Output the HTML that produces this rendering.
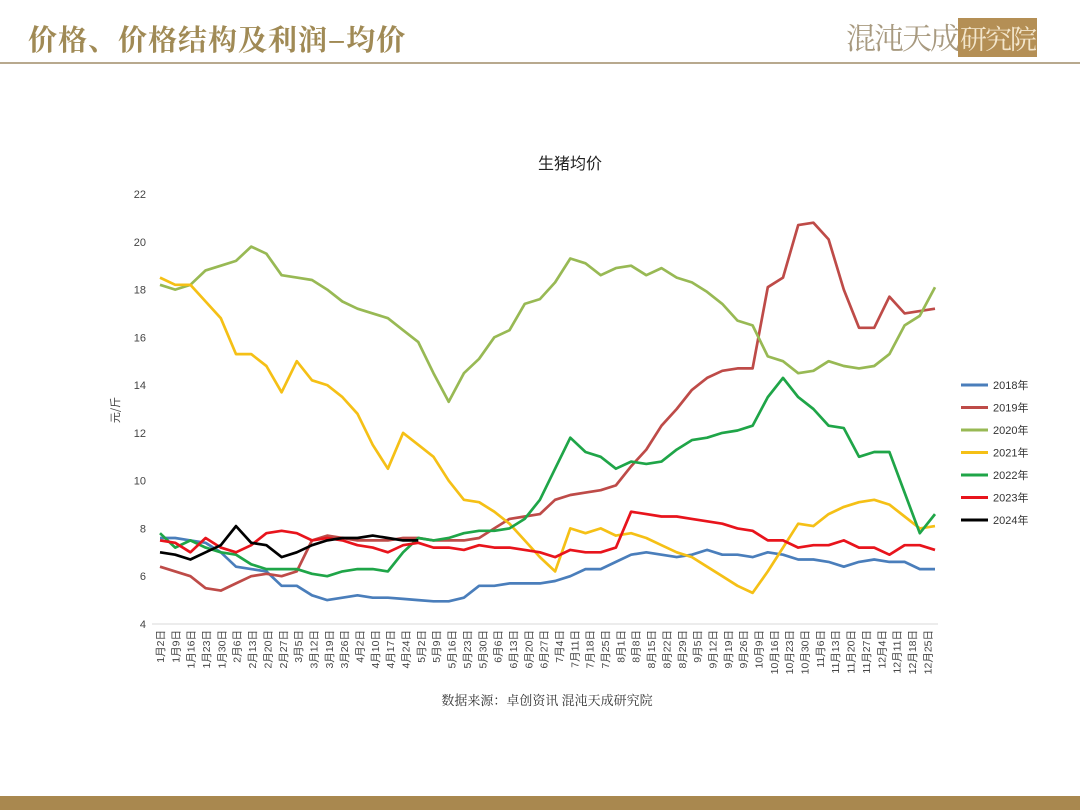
<!DOCTYPE html>
<html><head><meta charset="utf-8"><style>
body{margin:0;width:1080px;height:810px;background:#fff;position:relative;overflow:hidden;font-family:"Liberation Sans","Noto Sans CJK SC",sans-serif}
#hdr{position:absolute;left:28px;top:18px;font:bold 29px "Noto Serif CJK SC","Noto Sans CJK SC",serif;color:#a08a55;letter-spacing:1px}
#hline{position:absolute;left:0;top:62px;width:1080px;height:2px;background:#b8a98e}
#logo{position:absolute;left:846px;top:14px;font:30px "Noto Serif CJK SC",serif;color:#a89a80;letter-spacing:-2px}
#logo span{background:#b48f55;color:#f3e6cc;padding:0 2px;font-size:27px}
#foot{position:absolute;left:0;top:796px;width:1080px;height:14px;background:#a9884f}
</style></head><body>
<div id="hdr">价格、价格结构及利润–均价</div>
<div id="logo">混沌天成<span>研究院</span></div>
<div id="hline"></div>
<div id="foot"></div>
<svg id="chart" width="1080" height="810" style="position:absolute;left:0;top:0"></svg>
<script>
const categories=["1月2日","1月9日","1月16日","1月23日","1月30日","2月6日","2月13日","2月20日","2月27日","3月5日","3月12日","3月19日","3月26日","4月2日","4月10日","4月17日","4月24日","5月2日","5月9日","5月16日","5月23日","5月30日","6月6日","6月13日","6月20日","6月27日","7月4日","7月11日","7月18日","7月25日","8月1日","8月8日","8月15日","8月22日","8月29日","9月5日","9月12日","9月19日","9月26日","10月9日","10月16日","10月23日","10月30日","11月6日","11月13日","11月20日","11月27日","12月4日","12月11日","12月18日","12月25日"];
const yTicks=[4,6,8,10,12,14,16,18,20,22];
const seriesNames=["2018年","2019年","2020年","2021年","2022年","2023年","2024年"];
const colors=["#4a7ebb","#be4b48","#98b954","#f5c016","#1fa548","#e8141c","#000000"];
const s2018=[7.6,7.6,7.5,7.4,7.0,6.4,6.3,6.2,5.6,5.6,5.2,5.0,5.1,5.2,5.1,5.1,5.05,5.0,4.95,4.95,5.1,5.6,5.6,5.7,5.7,5.7,5.8,6.0,6.3,6.3,6.6,6.9,7.0,6.9,6.8,6.9,7.1,6.9,6.9,6.8,7.0,6.9,6.7,6.7,6.6,6.4,6.6,6.7,6.6,6.6,6.3,6.3];
const s2019=[6.4,6.2,6.0,5.5,5.4,5.7,6.0,6.1,6.0,6.2,7.5,7.7,7.6,7.5,7.5,7.5,7.6,7.6,7.5,7.5,7.5,7.6,8.0,8.4,8.5,8.6,9.2,9.4,9.5,9.6,9.8,10.6,11.3,12.3,13.0,13.8,14.3,14.6,14.7,14.7,18.1,18.5,20.7,20.8,20.1,18.0,16.4,16.4,17.7,17.0,17.1,17.2];
const s2020=[18.2,18.0,18.2,18.8,19.0,19.2,19.8,19.5,18.6,18.5,18.4,18.0,17.5,17.2,17.0,16.8,16.3,15.8,14.5,13.3,14.5,15.1,16.0,16.3,17.4,17.6,18.3,19.3,19.1,18.6,18.9,19.0,18.6,18.9,18.5,18.3,17.9,17.4,16.7,16.5,15.2,15.0,14.5,14.6,15.0,14.8,14.7,14.8,15.3,16.5,16.9,18.1];
const s2021=[18.5,18.2,18.2,17.5,16.8,15.3,15.3,14.8,13.7,15.0,14.2,14.0,13.5,12.8,11.5,10.5,12.0,11.5,11.0,10.0,9.2,9.1,8.7,8.2,7.5,6.8,6.2,8.0,7.8,8.0,7.7,7.8,7.6,7.3,7.0,6.8,6.4,6.0,5.6,5.3,6.2,7.2,8.2,8.1,8.6,8.9,9.1,9.2,9.0,8.5,8.0,8.1];
const s2022=[7.8,7.2,7.5,7.2,7.0,6.9,6.5,6.3,6.3,6.3,6.1,6.0,6.2,6.3,6.3,6.2,7.0,7.6,7.5,7.6,7.8,7.9,7.9,8.0,8.4,9.2,10.5,11.8,11.2,11.0,10.5,10.8,10.7,10.8,11.3,11.7,11.8,12.0,12.1,12.3,13.5,14.3,13.5,13.0,12.3,12.2,11.0,11.2,11.2,9.5,7.8,8.6];
const s2023=[7.5,7.4,7.0,7.6,7.2,7.0,7.3,7.8,7.9,7.8,7.5,7.6,7.5,7.3,7.2,7.0,7.3,7.4,7.2,7.2,7.1,7.3,7.2,7.2,7.1,7.0,6.8,7.1,7.0,7.0,7.2,8.7,8.6,8.5,8.5,8.4,8.3,8.2,8.0,7.9,7.5,7.5,7.2,7.3,7.3,7.5,7.2,7.2,6.9,7.3,7.3,7.1];
const s2024=[7.0,6.9,6.7,7.0,7.3,8.1,7.4,7.3,6.8,7.0,7.3,7.5,7.6,7.6,7.7,7.6,7.5,7.5];
const allSeries=[s2018,s2019,s2020,s2021,s2022,s2023,s2024];
const NS="http://www.w3.org/2000/svg";
const svg=document.getElementById('chart');
const X0=160,X1=935,Y0=624,Y1=194;
const xPos=i=>X0+i*(X1-X0)/51;
const yPos=v=>Y0-(v-4)*(Y0-Y1)/18;
function mk(t,a,p){const e=document.createElementNS(NS,t);for(const k in a)e.setAttribute(k,a[k]);(p||svg).appendChild(e);return e;}
let t=mk('text',{x:570,y:169,'text-anchor':'middle','font-size':16,fill:'#222','font-family':'"Noto Sans CJK SC",sans-serif'});t.textContent='生猪均价';


let ax=mk('line',{x1:152,x2:938,y1:Y0,y2:Y0,stroke:'#d9d9d9','stroke-width':1});


yTicks.forEach(v=>{const e=mk('text',{x:146,y:yPos(v)+4,'text-anchor':'end','font-size':11,fill:'#444'});e.textContent=v;

});
let yl=mk('text',{transform:'translate(119,410) rotate(-90)','text-anchor':'middle','font-size':11,fill:'#444','font-family':'"Noto Sans CJK SC",sans-serif'});yl.textContent='元/斤';


categories.forEach((c,i)=>{const x=X0+i*(X1-X0)/50.5;const e=mk('text',{transform:`translate(${x+4},630) rotate(-90)`,'text-anchor':'end','font-size':10.5,fill:'#444','font-family':'"Liberation Sans","Noto Sans CJK SC",sans-serif'});e.textContent=c;

});
allSeries.forEach((s,k)=>{const d=s.map((v,i)=>(i?'L':'M')+xPos(i).toFixed(1)+','+yPos(v).toFixed(1)).join('');
const p=mk('path',{d:d,fill:'none',stroke:colors[k],'stroke-width':2.7,'stroke-linejoin':'round'});

});
seriesNames.forEach((n,k)=>{const y=385+k*22.5;
const g=mk('g',{});


mk('line',{x1:961,x2:988,y1:y,y2:y,stroke:colors[k],'stroke-width':3},g);
const e=mk('text',{x:993,y:y+4,'font-size':11,fill:'#333','font-family':'"Liberation Sans","Noto Sans CJK SC",sans-serif'},g);e.textContent=n;});
let src=mk('text',{x:547,y:705,'text-anchor':'middle','font-size':13,fill:'#333','font-family':'"Noto Serif CJK SC",serif'});src.textContent='数据来源：卓创资讯 混沌天成研究院';


</script>
</body></html>
